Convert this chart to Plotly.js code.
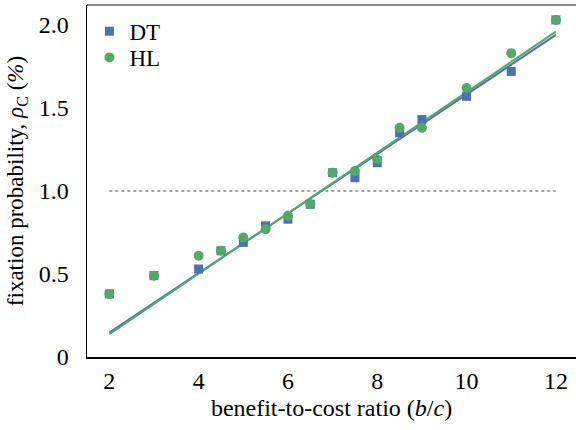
<!DOCTYPE html>
<html>
<head>
<meta charset="utf-8">
<script src="https://cdn.plot.ly/plotly-3.0.1.min.js"></script>
<style>html,body{margin:0;padding:0;background:#fff;}#chart{width:576px;height:430px;}</style>
</head>
<body>
<div id="chart"></div>
<script>
const bc = [2, 3, 4, 4.5, 5, 5.5, 6, 6.5, 7, 7.5, 8, 8.5, 9, 10, 11, 12];
const dtValues = [0.38, 0.49, 0.53, 0.64, 0.69, 0.79, 0.83, 0.92, 1.11, 1.08, 1.17, 1.35, 1.43, 1.57, 1.72, 2.03];
const hlValues = [0.38, 0.49, 0.61, 0.64, 0.72, 0.77, 0.85, 0.92, 1.11, 1.12, 1.19, 1.38, 1.38, 1.62, 1.83, 2.03];
const fitX = [2, 12];
const dtFit = [0.147, 1.94];
const hlFit = [0.137, 1.96];
const refX = [2, 12];
const refY = [1.0, 1.0];
const xTicks = [2, 4, 6, 8, 10, 12];
const yTicks = [0, 0.5, 1.0, 1.5, 2.0];
const yTickText = ['0', '0.5', '1.0', '1.5', '2.0'];

const blue = '#4C72B0';
const green = '#55A868';
const font = 'Liberation Serif, Times New Roman, serif';

const traces = [
  {x: refX, y: refY, mode: 'lines', line: {color: '#888', width: 1.5, dash: 'dot'}, showlegend: false, hoverinfo: 'skip'},
  {x: fitX, y: dtFit, mode: 'lines', line: {color: blue, width: 2}, showlegend: false},
  {x: fitX, y: hlFit, mode: 'lines', line: {color: green, width: 2}, showlegend: false},
  {x: bc, y: dtValues, mode: 'markers', name: 'DT', legend: 'legend', marker: {symbol: 'square', size: 9, color: blue}},
  {x: bc, y: hlValues, mode: 'markers', name: 'HL', legend: 'legend2', marker: {symbol: 'circle', size: 10, color: green}}
];

const legendBase = {xanchor: 'left', yanchor: 'middle', font: {size: 23, family: font}, bgcolor: 'rgba(0,0,0,0)', itemwidth: 30};

const layout = {
  width: 576, height: 430,
  margin: {l: 87, r: 0, t: 5, b: 73},
  paper_bgcolor: '#fff', plot_bgcolor: '#fff',
  font: {family: font, color: '#000', size: 22},
  showlegend: true,
  legend: Object.assign({x: 0.005, y: 0.925}, legendBase),
  legend2: Object.assign({x: 0.005, y: 0.851}, legendBase),
  xaxis: {
    range: [1.5, 12.45], tickvals: xTicks, ticktext: xTicks.map(String),
    showgrid: false, zeroline: false, showline: true, linecolor: '#000', linewidth: 1.5,
    ticks: '', tickfont: {size: 24, family: font}, ticklabelstandoff: 2,
    title: {text: 'benefit-to-cost ratio (<i>b</i>/<i>c</i>)', font: {size: 24, family: font}, standoff: 6}
  },
  yaxis: {
    range: [0, 2.12], tickvals: yTicks, ticktext: yTickText,
    showgrid: false, zeroline: false, showline: true, linecolor: '#000', linewidth: 1.5,
    ticks: '', tickfont: {size: 24, family: font}, ticklabelstandoff: 12,
    title: {text: 'fixation probability, <i>ρ</i><sub>C</sub> (<i>%</i>)', font: {size: 23, family: font}, standoff: 8}
  },
  shapes: [
    {type: 'line', xref: 'paper', yref: 'paper', x0: 0, x1: 1, y0: 1, y1: 1, line: {color: '#666', width: 1.5}}
  ]
};

Plotly.newPlot('chart', traces, layout, {displayModeBar: false, staticPlot: true});
</script>
</body>
</html>
